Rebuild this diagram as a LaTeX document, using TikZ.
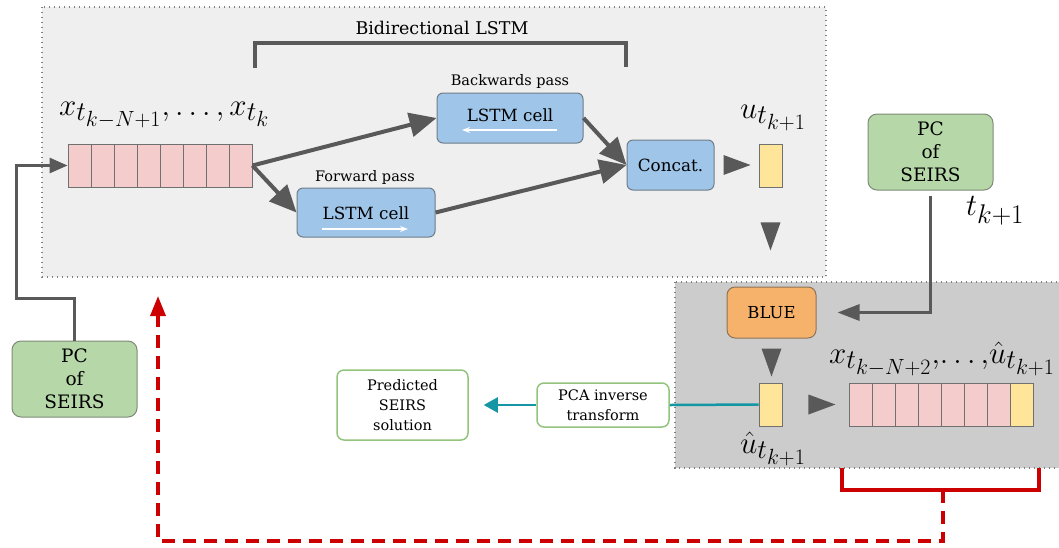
\RequirePackage{fix-cm}
\documentclass[tikz,border=0pt]{standalone}
\usepackage{fontspec}
\setmainfont{DejaVu Serif}
\DeclareMathSizes{31}{31}{27}{22}
\usetikzlibrary{arrows.meta,calc}
\definecolor{topbg}{HTML}{EFEFEF}
\definecolor{botbg}{HTML}{CCCCCC}
\definecolor{dotc}{HTML}{808080}
\definecolor{agray}{HTML}{595959}
\definecolor{lblue}{HTML}{9FC5E8}
\definecolor{bluebd}{HTML}{6F7D8A}
\definecolor{lgreen}{HTML}{B6D7A8}
\definecolor{greenbd}{HTML}{7C8A76}
\definecolor{lorange}{HTML}{F6B26B}
\definecolor{orangebd}{HTML}{8C7358}
\definecolor{lyellow}{HTML}{FFE599}
\definecolor{cellpink}{HTML}{F4CCCC}
\definecolor{cellbd}{HTML}{707070}
\definecolor{tealc}{HTML}{1496A4}
\definecolor{redc}{HTML}{CC0000}
\definecolor{outgreen}{HTML}{93C47D}
\tikzset{
  dotbox/.style={draw=dotc, line width=1.3pt, dash pattern=on 1.3pt off 3.7pt},
  cellbox/.style={draw=cellbd, fill=cellpink, line width=0.9pt, minimum width=23pt, minimum height=43pt, inner sep=0pt},
  ybox/.style={draw=cellbd, fill=lyellow, line width=0.9pt, minimum width=23pt, minimum height=43pt, inner sep=0pt},
  bluebox/.style={draw=bluebd, fill=lblue, line width=1pt, rounded corners=6pt, inner sep=0pt, font=\fontsize{16.8}{20}\selectfont},
  greenbox/.style={draw=greenbd, fill=lgreen, line width=1pt, rounded corners=9pt, minimum width=125pt, minimum height=76pt, inner sep=0pt, align=center, font=\fontsize{18.5}{23}\selectfont},
  outbox/.style={draw=outgreen, fill=white, line width=1.5pt, rounded corners=7pt, inner sep=0pt, align=center, font=\fontsize{14.5}{20}\selectfont},
  bigarrow/.style={draw=agray, line width=4pt, -{Triangle[length=27pt,width=24pt]}},
  flowline/.style={draw=agray, line width=3pt},
  mathlbl/.style={font=\fontsize{31}{34}\selectfont, inner sep=0pt},
  passlbl/.style={font=\fontsize{14.5}{17}\selectfont, inner sep=0pt},
  wharrow/.style={draw=white, line width=1.6pt, -{Stealth[length=8pt,width=6pt]}},
}
\begin{document}
\begin{tikzpicture}[x=1pt,y=-1pt]
\useasboundingbox (0,0) rectangle (1059,547);
% background boxes
\path[fill=topbg, dotbox] (42,7) rectangle (826,277);
\path[fill=botbg, dotbox] (675,282) rectangle (1070,468);

% title and bracket
\node[font=\fontsize{17.5}{20}\selectfont, inner sep=0pt] (title) at (442,28) {Bidirectional LSTM};
\draw[agray, line width=4pt] (255,68) -- (255,43) -- (626,43) -- (626,67);

% input array
\foreach \i in {1,...,8} {
  \node[cellbox] (a\i) at ({68+11.5+23*(\i-1)},165.5) {};
}
\node[mathlbl, anchor=base west] (xlbl) at (59,115) {$x_{t_{k-N+1}},\ldots,x_{t_k}$};

% LSTM cells
\node[bluebox, minimum width=146pt, minimum height=50pt] (bwd) at (510,118) {};
\node[font=\fontsize{16.8}{20}\selectfont, inner sep=0pt] (bwdt) at (510,115) {LSTM cell};
\coordinate (bw1) at (557,130);
\coordinate (bw2) at (462,130);
\draw[wharrow] (bw1) -- (bw2);
\node[passlbl] (bwdlbl) at (510,81) {Backwards pass};

\node[bluebox, minimum width=138pt, minimum height=49pt] (fwd) at (366,212.5) {};
\node[font=\fontsize{16.8}{20}\selectfont, inner sep=0pt] (fwdt) at (366,213) {LSTM cell};
\coordinate (fw1) at (322,229);
\coordinate (fw2) at (408,229);
\draw[wharrow] (fw1) -- (fw2);
\node[passlbl] (fwdlbl) at (365,177) {Forward pass};

% concat
\node[bluebox, minimum width=87pt, minimum height=50pt] (concat) at (670.5,165) {Concat.};

% connectors
\draw[bigarrow] (a8.east) -- (bwd.west);
\draw[bigarrow] (a8.east) -- (fwd.west);
\draw[bigarrow] (bwd.east) -- (concat.west);
\draw[bigarrow] (fwd.east) -- (concat.west);

% u box
\node[ybox] (u) at (770.5,165.5) {};
\node[mathlbl, anchor=base west] (ulbl) at (740,118) {$u_{t_{k+1}}$};
\fill[agray] ($(concat.east)+(9,-10)$) -- ++(27,10) -- ++(-27,10) -- cycle;
\fill[agray] ($(u.south)+(-10,35)$) -- ++(20,0) -- ++(-10,28) -- cycle;

% right PC
\node[greenbox] (pcr) at (930.5,152) {PC\\of\\SEIRS};
\node[mathlbl, anchor=base west] (tlbl) at (966,215) {$t_{k+1}$};

% BLUE
\node[draw=orangebd, fill=lorange, line width=1pt, rounded corners=8pt, minimum width=89pt, minimum height=51pt, inner sep=0pt, font=\fontsize{16.5}{18}\selectfont] (blue) at (771.5,312.5) {BLUE};
\draw[flowline, -{Triangle[length=22pt,width=16pt]}, shorten <=5pt, shorten >=21pt] (pcr.south) |- (blue.east);

% u hat
\node[ybox] (uh) at (770.5,404.5) {};
\node[mathlbl, anchor=base west] (uhlbl) at (740,453) {$\hat{u}_{t_{k+1}}$};
\fill[agray] ($(blue.south)+(-10,10)$) -- ++(20,0) -- ++(-10,28) -- cycle;
\fill[agray] ($(uh.east)+(26,-10)$) -- ++(27,10) -- ++(-27,10) -- cycle;

% second array
\foreach \i in {1,...,7} {
  \node[cellbox] (b\i) at ({849+11.5+23*(\i-1)},404.5) {};
}
\node[ybox] (b8) at ({849+11.5+23*7},404.5) {};
\node[mathlbl, anchor=base west] (x2lbl) at (829,363) {$x_{t_{k-N+2}},\!\ldots,\!\hat{u}_{t_{k+1}}$};

% PCA and predicted
\node[outbox, minimum width=132pt, minimum height=44pt] (pca) at (603,405) {PCA inverse\\transform};
\node[outbox, minimum width=131pt, minimum height=70pt] (pred) at (402.5,405) {Predicted\\SEIRS\\solution};
\draw[tealc, line width=2.5pt] (uh.west) -- (pca.east);
\draw[tealc, line width=2.5pt, -{Triangle[length=14pt,width=15pt]}, shorten >=15pt] (pca.west) -- (pred.east);

% left PC
\node[greenbox] (pcl) at (74.5,379) {PC\\of\\SEIRS};
\coordinate (lbend) at (16,298);
\draw[flowline, -{Triangle[length=18pt,width=15pt]}] (pcl.north) |- (lbend) |- (a1.west);

% red feedback
\draw[redc, line width=3.5pt] (842,468) -- (842,490) -- (1039,490) -- (1039,468);
\coordinate (rb) at (943,490);
\coordinate (rc) at (943,541);
\coordinate (rt) at (158,296);
\draw[redc, line width=3.5pt, dash pattern=on 13pt off 8pt, -{Triangle[length=20pt,width=15pt]}] (rb) -- (rc) -| (rt);
\end{tikzpicture}
\end{document}
